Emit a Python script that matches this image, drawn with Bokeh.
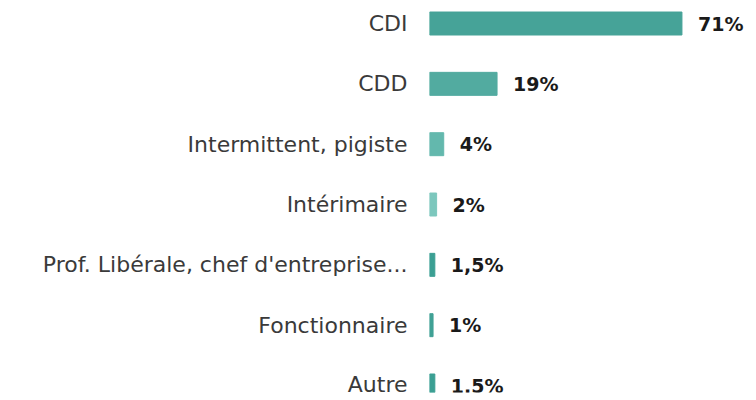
from bokeh.plotting import figure
from bokeh.models import ColumnDataSource, FixedTicker, Range1d
from bokeh.core.properties import value
from bokeh.embed import file_html
from bokeh.resources import INLINE

categories = ["CDI", "CDD", "Intermittent, pigiste", "Intérimaire",
              "Prof. Libérale, chef d'entreprise...", "Fonctionnaire", "Autre"]
values = [71, 19, 4, 2, 1.5, 1, 1.5]
value_labels = ["71%", "19%", "4%", "2%", "1,5%", "1%", "1,5%"]
colors = ["#46a398", "#52aba0", "#63b8ad", "#7cc7bd", "#3b9f93", "#40a195", "#3b9f93"]

n = len(categories)
ypos = [n - 1 - i for i in range(n)]

src = ColumnDataSource(dict(y=ypos, v=values, lab=value_labels, c=colors))

p = figure(width=750, height=396, output_backend="svg", toolbar_location=None,
           x_range=Range1d(0, 90), y_range=Range1d(-0.116, 6.249),
           min_border_left=429, min_border_right=1, min_border_top=8, min_border_bottom=4)

p.hbar(y="y", right="v", left=0, height=0.381, color="c", source=src)
p.text(x="v", y="y", text="lab", source=src, x_offset=16,
       text_baseline="middle", text_align="left",
       text_font=value("DejaVu Sans"), text_font_style="bold",
       text_font_size="19px", text_color="#1a1a1a")

p.xaxis.visible = False
p.yaxis.ticker = FixedTicker(ticks=ypos)
p.yaxis.major_label_overrides = {ypos[i]: categories[i] for i in range(n)}
p.yaxis.axis_line_color = None
p.yaxis.major_tick_line_color = None
p.yaxis.minor_tick_line_color = None
p.yaxis.major_tick_out = 0
p.yaxis.major_tick_in = 0
p.yaxis.major_label_standoff = 22
p.yaxis.major_label_text_font = "DejaVu Sans"
p.yaxis.major_label_text_font_size = "22px"
p.yaxis.major_label_text_color = "#3a3a3a"
p.xgrid.visible = False
p.ygrid.visible = False
p.outline_line_color = None

open("out.html", "w").write(file_html(p, INLINE))
